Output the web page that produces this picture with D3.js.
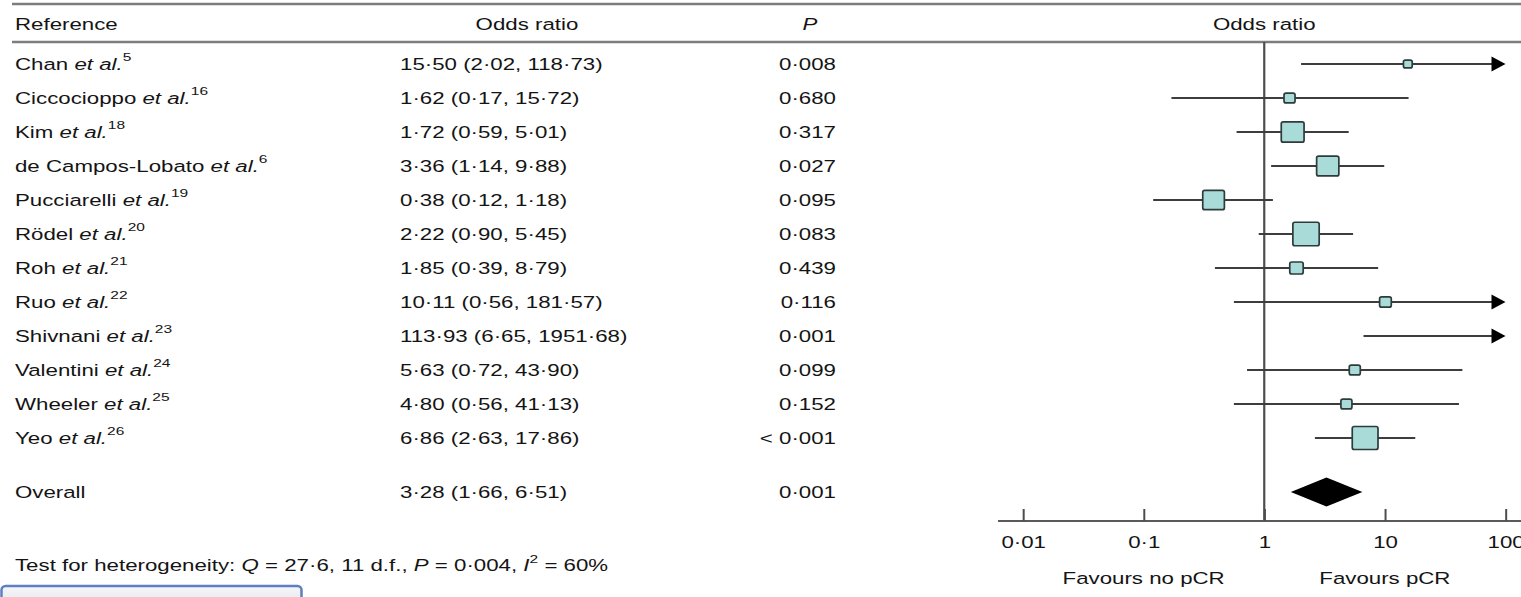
<!DOCTYPE html>
<html>
<head>
<meta charset="utf-8">
<script src="https://cdn.jsdelivr.net/npm/d3@7"></script>
<style>
  html, body { margin: 0; padding: 0; background: #fff; overflow: hidden; }
  svg text { font-family: "Liberation Sans", Arial, Helvetica, sans-serif; font-size: 16.5px; fill: #141414; }
  .nss { vector-effect: non-scaling-stroke; }
</style>
</head>
<body>
<svg id="chart"></svg>
<script>
// ---- Data ---------------------------------------------------------------
const studies   = ["Chan", "Ciccocioppo", "Kim", "de Campos-Lobato", "Pucciarelli", "Rödel",
                   "Roh", "Ruo", "Shivnani", "Valentini", "Wheeler", "Yeo"];
const citations = [5, 16, 18, 6, 19, 20, 21, 22, 23, 24, 25, 26];
const oddsRatio = [15.50, 1.62, 1.72, 3.36, 0.38, 2.22, 1.85, 10.11, 113.93, 5.63, 4.80, 6.86];
const ciLower   = [2.02, 0.17, 0.59, 1.14, 0.12, 0.90, 0.39, 0.56, 6.65, 0.72, 0.56, 2.63];
const ciUpper   = [118.73, 15.72, 5.01, 9.88, 1.18, 5.45, 8.79, 181.57, 1951.68, 43.90, 41.13, 17.86];
const pValues   = ["0·008", "0·680", "0·317", "0·027", "0·095", "0·083", "0·439", "0·116",
                   "0·001", "0·099", "0·152", "< 0·001"];
// study weights (%) set the marker area
const weights   = [2.1, 3.3, 14.1, 13.4, 12.7, 18.8, 4.9, 3.7, 2.2, 3.3, 3.3, 18.0];

const overallEstimate = [3.28, 1.66, 6.51];   // OR, lower, upper
const overallP        = "0·001";

const axisTicks  = [0.01, 0.1, 1, 10, 100];
const tickLabels = ["0·01", "0·1", "1", "10", "100"];
const favourLabels = ["Favours no pCR", "Favours pCR"];
const favourAt     = [0.1, 10];

// one record per study, built from the arrays above
const rowsData = studies.map((s, i) => ({
  i, name: s, cite: citations[i], or: oddsRatio[i], lo: ciLower[i], hi: ciUpper[i],
  p: pValues[i], w: weights[i]
}));

// ---- Layout -------------------------------------------------------------
const WIDTH = 1521, HEIGHT = 597;
const SX = 1.35;                 // horizontal stretch of the whole figure
const IW = WIDTH / SX;           // inner (unstretched) width
const px = v => v / SX;          // convert a screen x to inner units

const svg = d3.select("#chart")
  .attr("width", WIDTH).attr("height", HEIGHT)
  .attr("viewBox", `0 0 ${IW} ${HEIGHT}`)
  .attr("preserveAspectRatio", "none");

const x = d3.scaleLog().domain([0.01, 100]).range([px(1023), px(1505.5)]);
const y = d3.scaleLinear().domain([0, studies.length - 1]).range([64, 438]);
const yOverall = 492;
const axisY = 521;
const box = d3.scaleSqrt().domain([0, d3.max(weights)]).range([0, 23.5]);
const fmt = v => d3.format(".2f")(v).replace(".", "·");

const colName = px(15), colOR = px(400), colPRight = px(836), colPHead = px(810);
const baseOff = 6;

// ---- Header rules -------------------------------------------------------
[4, 42].forEach(ry => {
  svg.append("line").attr("class", "nss")
    .attr("x1", px(12)).attr("x2", IW).attr("y1", ry).attr("y2", ry)
    .attr("stroke", "#7d7d7d").attr("stroke-width", 2.6);
});

const header = svg.append("g");
header.append("text").attr("x", colName).attr("y", 30).text("Reference");
header.append("text").attr("x", px(527)).attr("y", 30).attr("text-anchor", "middle").text("Odds ratio");
header.append("text").attr("x", colPHead).attr("y", 30).attr("text-anchor", "middle")
  .style("font-style", "italic").text("P");
header.append("text").attr("x", x(1)).attr("y", 30).attr("text-anchor", "middle").text("Odds ratio");

// ---- Table columns ------------------------------------------------------
const rows = svg.append("g").selectAll("g").data(rowsData).join("g");

const name = rows.append("text").attr("x", colName).attr("y", d => y(d.i) + baseOff);
name.append("tspan").text(d => d.name + " ");
name.append("tspan").style("font-style", "italic").text("et al.");
name.append("tspan").attr("dy", -8.5).style("font-size", "11.5px").text(d => d.cite);

rows.append("text").attr("x", colOR).attr("y", d => y(d.i) + baseOff)
  .text(d => `${fmt(d.or)} (${fmt(d.lo)}, ${fmt(d.hi)})`);
rows.append("text").attr("x", colPRight).attr("y", d => y(d.i) + baseOff)
  .attr("text-anchor", "end").text(d => d.p);

svg.append("text").attr("x", colName).attr("y", yOverall + baseOff).text("Overall");
svg.append("text").attr("x", colOR).attr("y", yOverall + baseOff)
  .text(`${fmt(overallEstimate[0])} (${fmt(overallEstimate[1])}, ${fmt(overallEstimate[2])})`);
svg.append("text").attr("x", colPRight).attr("y", yOverall + baseOff)
  .attr("text-anchor", "end").text(overallP);

// heterogeneity statement
const het = svg.append("text").attr("x", colName).attr("y", 571);
het.append("tspan").text("Test for heterogeneity: ");
het.append("tspan").style("font-style", "italic").text("Q");
het.append("tspan").text(" = 27·6, 11 d.f., ");
het.append("tspan").style("font-style", "italic").text("P");
het.append("tspan").text(" = 0·004, ");
het.append("tspan").style("font-style", "italic").text("I");
het.append("tspan").attr("dy", -7.5).style("font-size", "11.5px").text("2");
het.append("tspan").attr("dy", 7.5).text(" = 60%");

// ---- Forest plot --------------------------------------------------------
const plot = svg.append("g");

// reference line at OR = 1
plot.append("line").attr("class", "nss")
  .attr("x1", x(1)).attr("x2", x(1)).attr("y1", 42).attr("y2", axisY)
  .attr("stroke", "#4d4d4d").attr("stroke-width", 2.2);

// axis
plot.append("line").attr("class", "nss")
  .attr("x1", px(998)).attr("x2", IW).attr("y1", axisY).attr("y2", axisY)
  .attr("stroke", "#5a5a5a").attr("stroke-width", 2.2);

const axis = d3.axisBottom(x).tickValues(axisTicks)
  .tickFormat((d, i) => tickLabels[i]).tickSizeInner(-12).tickSizeOuter(0).tickPadding(15);
const axisG = plot.append("g").attr("transform", `translate(0,${axisY})`).call(axis);
axisG.select(".domain").remove();
axisG.attr("font-size", null).attr("font-family", null);
axisG.selectAll(".tick line").attr("class", "nss").attr("stroke", "#4d4d4d").attr("stroke-width", 2);
axisG.selectAll(".tick text").attr("fill", null);

favourLabels.forEach((t, i) => {
  plot.append("text").attr("x", x(favourAt[i])).attr("y", 584)
    .attr("text-anchor", "middle").text(t);
});

// confidence intervals
const [xMin, xMax] = x.domain();
const ci = plot.append("g").selectAll("g").data(rowsData).join("g");
ci.append("line").attr("class", "nss")
  .attr("x1", d => x(Math.max(d.lo, xMin)))
  .attr("x2", d => x(Math.min(d.hi, xMax)) - (d.hi > xMax ? px(6) : 0))
  .attr("y1", d => y(d.i)).attr("y2", d => y(d.i))
  .attr("stroke", "#3d3d3d").attr("stroke-width", 2);

// arrows for intervals running past the axis
ci.filter(d => d.hi > xMax).append("path")
  .attr("d", d => {
    const tip = x(xMax), yy = y(d.i);
    return `M${tip},${yy} L${tip - px(14)},${yy - 7.5} L${tip - px(14)},${yy + 7.5} Z`;
  })
  .attr("fill", "#000");

// weighted boxes
ci.filter(d => d.or <= xMax).append("rect").attr("class", "nss")
  .attr("x", d => x(d.or) - px(box(d.w) * 1.12) / 2)
  .attr("y", d => y(d.i) - box(d.w) / 2)
  .attr("width", d => px(box(d.w) * 1.12))
  .attr("height", d => box(d.w))
  .attr("rx", px(2)).attr("ry", 2)
  .attr("fill", "#a9dcd8").attr("stroke", "#2e3b3b").attr("stroke-width", 1.7);

// pooled estimate
const [oOR, oLo, oHi] = overallEstimate;
plot.append("path")
  .attr("d", `M${x(oLo)},${yOverall} L${x(oOR)},${yOverall - 14.5} L${x(oHi)},${yOverall} L${x(oOR)},${yOverall + 14.5} Z`)
  .attr("fill", "#000");

// page tab partly visible at the bottom left
const grad = svg.append("defs").append("linearGradient").attr("id", "tab")
  .attr("x1", 0).attr("x2", 0).attr("y1", 0).attr("y2", 1);
grad.append("stop").attr("offset", "0%").attr("stop-color", "#f4f5f8");
grad.append("stop").attr("offset", "100%").attr("stop-color", "#dfe3ea");
svg.append("rect").attr("class", "nss")
  .attr("x", px(1.5)).attr("y", 586).attr("width", px(300)).attr("height", 30)
  .attr("rx", px(4)).attr("ry", 4)
  .attr("fill", "url(#tab)").attr("stroke", "#5f7fbf").attr("stroke-width", 2.5);
</script>
</body>
</html>
